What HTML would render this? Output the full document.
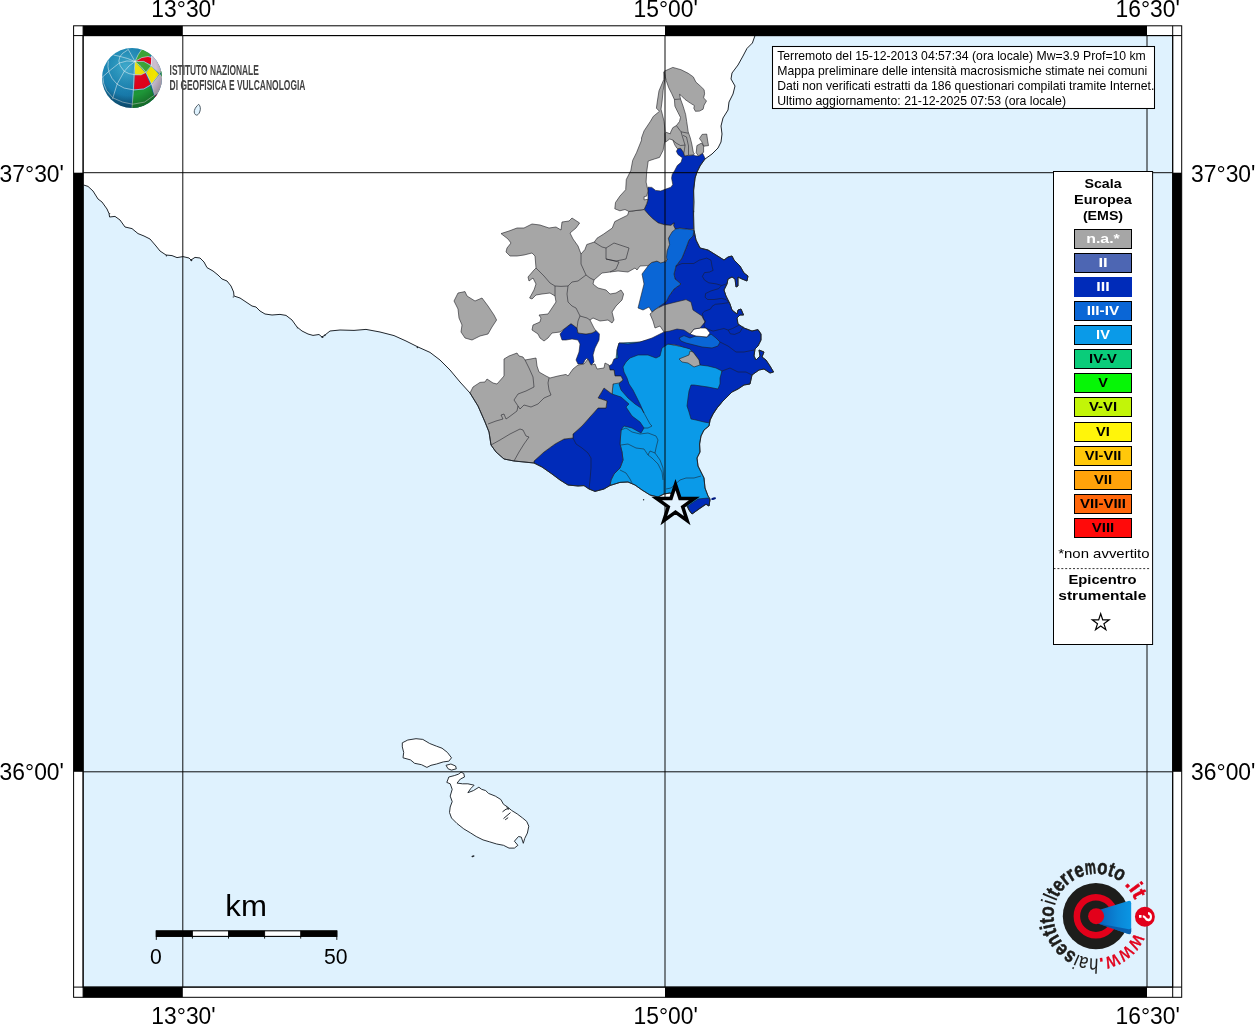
<!DOCTYPE html>
<html><head><meta charset="utf-8"><title>Mappa macrosismica</title>
<style>html,body{margin:0;padding:0;background:#fff}svg{display:block;will-change:transform}text{font-family:"Liberation Sans",sans-serif}</style></head><body>
<svg width="1255" height="1024" viewBox="0 0 1255 1024">
<defs><clipPath id="mapclip"><rect x="83.1" y="35.6" width="1089.6" height="951.5"/></clipPath>

<clipPath id="globeclip"><circle cx="132.0" cy="78.0" r="30.00"/></clipPath>
<radialGradient id="gblue" cx="0.38" cy="0.3" r="0.75">
 <stop offset="0" stop-color="#2ca3c9"/><stop offset="0.55" stop-color="#1a80b0"/><stop offset="1" stop-color="#0d5a88"/>
</radialGradient>
<radialGradient id="gshade" cx="0.45" cy="0.35" r="0.62">
 <stop offset="0" stop-color="#fff" stop-opacity="0.12"/><stop offset="0.7" stop-color="#000" stop-opacity="0"/><stop offset="1" stop-color="#000" stop-opacity="0.28"/>
</radialGradient>
<linearGradient id="cone" x1="0" y1="0" x2="1" y2="0">
 <stop offset="0" stop-color="#0a5fb8"/><stop offset="0.6" stop-color="#0a86d6"/><stop offset="1" stop-color="#0a96e4"/>
</linearGradient>

</defs>
<rect width="1255" height="1024" fill="#fff"/>
<g clip-path="url(#mapclip)">
<rect x="83.1" y="35.6" width="1089.6" height="951.5" fill="#dff2fe"/>
<path d="M60.0 20.0 L755.0 35.6 L752.4 43.0 L747.0 48.4 L743.0 56.0 L738.0 65.0 L732.0 73.0 L731.0 79.0 L735.0 86.0 L733.0 94.0 L729.0 102.0 L728.0 110.0 L723.0 118.0 L721.0 126.0 L722.0 134.0 L721.0 142.0 L718.0 148.0 L712.0 154.0 L705.0 159.0 L700.0 166.0 L697.0 172.0 L695.0 178.0 L693.6 190.0 L694.0 202.0 L693.6 214.0 L694.0 230.0 L696.0 240.0 L700.0 248.0 L708.0 250.0 L716.0 255.0 L724.0 260.0 L728.0 257.0 L732.0 256.0 L734.0 260.0 L740.0 266.0 L744.0 273.0 L748.0 276.0 L747.0 281.0 L742.0 279.0 L738.0 277.0 L738.0 286.0 L736.0 287.0 L735.0 279.0 L732.0 277.0 L728.0 279.0 L727.0 284.0 L724.0 290.0 L726.0 296.0 L730.0 304.0 L732.0 310.0 L737.0 314.0 L738.0 310.0 L741.0 309.0 L743.6 315.0 L740.0 315.0 L737.0 318.0 L738.0 324.0 L744.0 328.0 L752.0 331.0 L758.0 329.6 L761.0 334.0 L761.0 340.0 L758.0 346.0 L755.0 349.0 L754.0 356.0 L756.0 360.0 L760.0 356.0 L759.0 350.0 L764.0 352.0 L762.0 357.0 L766.0 360.0 L770.0 366.0 L773.6 372.0 L770.0 373.0 L764.0 369.0 L759.0 370.0 L752.0 375.0 L750.0 384.0 L744.0 385.0 L738.0 389.0 L732.0 392.0 L728.0 396.0 L722.0 402.0 L717.0 408.0 L713.0 414.0 L710.0 420.0 L709.0 426.0 L704.0 430.0 L701.0 436.0 L699.6 444.0 L700.0 452.0 L697.0 458.0 L698.0 466.0 L701.0 472.0 L704.0 478.0 L705.0 488.0 L708.0 496.0 L710.0 499.0 L709.0 506.0 L706.0 504.0 L700.0 508.0 L692.0 514.0 L689.0 510.0 L686.0 504.0 L680.0 498.0 L670.0 493.0 L664.0 494.0 L658.0 497.0 L650.0 495.0 L642.0 490.0 L635.0 485.0 L628.0 482.0 L620.0 482.4 L610.0 485.5 L604.0 489.0 L595.0 491.4 L589.0 489.0 L584.0 485.6 L578.0 486.0 L568.0 485.0 L560.0 480.0 L552.0 474.0 L542.0 467.0 L534.0 463.0 L524.0 462.0 L514.0 461.0 L504.0 459.0 L496.0 452.0 L491.0 445.0 L489.0 432.0 L485.0 422.0 L478.0 406.0 L470.0 393.0 L460.0 382.0 L450.0 370.0 L440.0 360.0 L430.0 352.4 L418.0 347.0 L406.0 341.0 L394.0 335.6 L380.0 332.0 L366.0 329.4 L354.0 330.4 L340.0 330.0 L330.0 331.0 L325.0 335.0 L322.0 337.0 L319.0 334.5 L313.0 335.4 L308.0 334.0 L302.0 331.0 L297.0 327.0 L292.0 320.0 L286.0 315.4 L280.0 314.4 L272.0 315.0 L265.0 314.0 L260.0 311.0 L256.0 307.0 L252.0 306.0 L246.0 302.0 L240.0 298.0 L234.0 296.0 L233.6 292.0 L231.0 286.0 L227.0 281.0 L222.0 279.0 L218.0 275.0 L213.0 271.0 L207.0 267.6 L204.0 262.0 L200.0 258.0 L195.0 257.4 L191.0 260.0 L189.0 258.0 L183.0 256.6 L177.0 257.6 L172.0 255.6 L166.0 255.0 L160.0 251.0 L156.0 246.0 L150.0 239.0 L144.0 236.0 L138.0 233.6 L132.0 228.6 L125.0 227.0 L120.0 220.0 L115.0 216.4 L109.6 217.0 L109.0 213.5 L107.0 209.0 L102.0 202.0 L98.0 199.0 L93.0 191.0 L88.0 186.4 L83.6 185.0 L60.0 185.0Z" fill="#fff"/>
<path d="M402.3 742.8 L407.8 740.0 L416.0 738.7 L422.8 739.4 L429.7 743.5 L436.5 746.2 L442.0 748.2 L447.4 752.4 L451.5 757.8 L448.8 761.2 L443.3 761.9 L436.5 764.0 L431.0 765.3 L426.9 767.4 L421.5 764.7 L414.6 763.3 L410.5 759.9 L403.0 757.8 L403.7 752.4 L402.3 746.9Z" fill="#fff" stroke="#20262c" stroke-width="0.95" stroke-linejoin="round"/>
<path d="M446.0 765.3 L450.9 764.0 L455.6 766.0 L456.3 768.8 L451.5 770.1 L448.1 768.8Z" fill="#fff" stroke="#20262c" stroke-width="0.95" stroke-linejoin="round"/>
<path d="M448.8 777.0 L454.3 775.6 L458.4 774.2 L461.1 772.2 L463.8 773.5 L464.5 777.0 L460.4 779.0 L457.0 783.1 L462.5 783.8 L467.9 783.8 L474.1 785.2 L470.7 788.6 L467.9 792.7 L473.4 790.6 L478.9 787.2 L481.6 789.3 L485.7 790.6 L488.5 793.4 L495.3 796.1 L500.8 799.5 L503.5 804.3 L507.6 807.0 L511.7 810.5 L517.2 813.9 L522.6 818.0 L526.7 821.4 L528.8 826.2 L527.4 833.0 L524.7 838.5 L523.3 843.3 L521.3 837.1 L518.5 836.5 L514.4 841.2 L517.9 845.3 L514.4 848.1 L509.0 848.1 L503.5 845.3 L496.7 844.0 L489.8 841.9 L483.0 839.9 L476.2 836.5 L470.7 833.0 L463.8 828.9 L457.0 823.5 L451.5 818.0 L449.5 812.5 L450.2 807.0 L452.2 801.6 L450.2 796.1 L452.2 789.3 L450.2 783.8 L446.8 782.4 L448.1 779.0Z" fill="#fff" stroke="#20262c" stroke-width="0.95" stroke-linejoin="round"/>
<path d="M502.5 811.8 L506.0 809.2 L509.0 808.6" fill="none" stroke="#20262c" stroke-width="1.0"/>
<path d="M503.5 818.6 L507.0 815.6 L510.5 812.6" fill="none" stroke="#20262c" stroke-width="1.0"/>
<path d="M505.2 819.8 L508.2 817.6" fill="none" stroke="#20262c" stroke-width="1.0"/>
<path d="M506.5 806.5 L508.5 809.5" fill="none" stroke="#20262c" stroke-width="1.0"/>
<circle cx="166.4" cy="255.8" r="0.7" fill="#20262c"/>
<circle cx="191.3" cy="260.3" r="1.0" fill="#20262c"/>
<circle cx="233.3" cy="296.9" r="0.6" fill="#20262c"/>
<circle cx="109.7" cy="213.6" r="0.6" fill="#20262c"/>
<circle cx="322.4" cy="337.0" r="1.1" fill="#20262c"/>
<circle cx="324.8" cy="335.4" r="0.8" fill="#20262c"/>
<circle cx="417.4" cy="347.4" r="0.8" fill="#20262c"/>
<circle cx="297.3" cy="327.8" r="0.6" fill="#20262c"/>
<circle cx="693.5" cy="177.5" r="0.9" fill="#20262c"/>
<circle cx="693.3" cy="211.5" r="0.9" fill="#20262c"/>
<path d="M198.7 104.3 C200.5 106 200.9 109 199.7 112 C198.9 114 197.5 115.3 196.4 115.1 C194.6 114.7 193.9 112.5 194.4 110.5 C195 108 197 105.6 198.7 104.3Z" fill="#dff2fe" stroke="#3c4a54" stroke-width="0.9"/>
<ellipse cx="473" cy="856.3" rx="1.6" ry="0.8" transform="rotate(-20 473 856.3)" fill="#20262c"/>
<ellipse cx="713.6" cy="498.6" rx="2.5" ry="1.1" transform="rotate(-15 713.6 498.6)" fill="#001a80"/>
<circle cx="643.6" cy="499.8" r="0.7" fill="#20262c"/>
<rect x="653" y="493.2" width="17" height="3" fill="#fff"/>
<path d="M613.0 384.0 L617.0 350.0 L619.0 343.0 L640.0 342.0 L662.0 337.0 L668.0 344.0 L700.0 350.0 L722.0 371.0 L724.0 393.0 L722.0 402.0 L717.0 408.0 L713.0 414.0 L710.0 420.0 L709.0 426.0 L704.0 430.0 L701.0 436.0 L699.6 444.0 L700.0 452.0 L697.0 458.0 L698.0 466.0 L701.0 472.0 L704.0 478.0 L705.0 488.0 L708.0 496.0 L710.0 499.0 L709.0 506.0 L706.0 504.0 L700.0 508.0 L692.0 514.0 L689.0 510.0 L686.0 504.0 L680.0 498.0 L670.0 493.0 L664.0 494.0 L658.0 497.0 L650.0 495.0 L642.0 490.0 L635.0 485.0 L628.0 482.0 L620.0 482.4 L610.0 485.5 L611.0 480.0 L614.0 474.0 L620.0 468.0 L623.0 460.0 L622.0 452.0 L620.0 444.0 L621.0 430.0 L615.0 420.0 L612.0 394.0Z" fill="#0a9ae8" stroke="#1c1c22" stroke-width="0.60" stroke-linejoin="round"/>
<path d="M534.0 461.0 L544.0 452.0 L555.0 444.0 L564.0 439.0 L573.0 438.0 L573.0 434.0 L582.0 426.0 L590.0 417.0 L598.0 408.0 L606.0 408.0 L607.0 401.0 L598.0 398.0 L604.0 388.0 L612.0 394.0 L621.0 397.0 L629.0 404.0 L626.0 407.0 L632.0 416.0 L640.0 422.0 L644.0 428.0 L641.0 433.0 L632.0 428.0 L624.0 426.0 L621.0 430.0 L620.0 444.0 L622.0 452.0 L623.0 460.0 L620.0 468.0 L614.0 474.0 L611.0 480.0 L610.0 485.5 L604.0 489.0 L595.0 491.4 L589.0 489.0 L584.0 485.6 L578.0 486.0 L568.0 485.0 L560.0 480.0 L552.0 474.0 L542.0 467.0 L534.0 463.0Z" fill="#002bb9" stroke="#1c1c22" stroke-width="0.60" stroke-linejoin="round"/>
<path d="M560.0 334.0 L564.0 329.0 L571.0 323.6 L577.0 328.0 L578.0 333.0 L586.0 334.0 L592.0 333.0 L596.0 330.4 L599.4 334.0 L599.0 340.0 L595.0 348.0 L593.0 355.0 L594.0 362.0 L591.0 365.0 L587.0 358.0 L585.0 360.0 L583.0 364.0 L578.0 364.0 L576.0 360.0 L579.0 352.0 L580.0 344.0 L578.0 340.0 L572.0 339.0 L566.0 340.0 L562.0 340.0Z" fill="#002bb9" stroke="#1c1c22" stroke-width="0.60" stroke-linejoin="round"/>
<path d="M648.0 187.2 L651.8 187.4 L655.6 190.4 L660.7 191.0 L665.8 189.1 L670.9 187.2 L672.8 184.6 L671.6 178.2 L672.2 174.4 L674.7 170.6 L677.3 165.5 L681.1 162.3 L682.4 157.8 L680.5 156.4 L677.9 154.4 L676.4 151.3 L677.9 148.7 L680.5 148.2 L683.6 152.3 L684.6 155.9 L688.2 155.4 L693.3 154.9 L695.9 155.9 L699.0 155.9 L702.6 153.3 L705.1 158.5 L700.2 165.5 L697.1 171.9 L695.1 178.2 L693.6 191.0 L693.2 211.4 L693.6 229.2 L687.5 229.2 L679.8 228.0 L675.4 229.2 L673.5 225.4 L674.1 222.9 L670.9 225.4 L664.5 224.8 L658.2 222.9 L653.1 219.0 L649.2 215.2 L644.1 209.5 L646.7 203.7 L648.0 199.3 L648.0 191.0Z" fill="#002bb9" stroke="#1c1c22" stroke-width="0.60" stroke-linejoin="round"/>
<path d="M619.0 343.0 L628.0 344.0 L640.0 342.0 L652.0 338.0 L660.0 334.0 L664.0 332.0 L666.0 330.0 L662.0 325.0 L658.0 318.0 L656.0 312.0 L660.0 306.0 L666.0 302.0 L669.0 296.0 L674.0 289.0 L681.0 284.0 L675.0 279.0 L674.0 274.0 L676.0 266.0 L682.0 258.0 L686.0 248.0 L689.0 240.0 L693.0 236.0 L694.0 231.0 L696.0 240.0 L700.0 248.0 L708.0 250.0 L716.0 255.0 L724.0 260.0 L728.0 257.0 L732.0 256.0 L734.0 260.0 L740.0 266.0 L744.0 273.0 L748.0 276.0 L747.0 281.0 L742.0 279.0 L738.0 277.0 L738.0 286.0 L736.0 287.0 L735.0 279.0 L732.0 277.0 L728.0 279.0 L727.0 284.0 L724.0 290.0 L726.0 296.0 L730.0 304.0 L732.0 310.0 L737.0 314.0 L738.0 310.0 L741.0 309.0 L743.6 315.0 L740.0 315.0 L737.0 318.0 L738.0 324.0 L744.0 328.0 L752.0 331.0 L758.0 329.6 L761.0 334.0 L761.0 340.0 L758.0 346.0 L755.0 349.0 L754.0 356.0 L756.0 360.0 L760.0 356.0 L759.0 350.0 L764.0 352.0 L762.0 357.0 L766.0 360.0 L770.0 366.0 L773.6 372.0 L770.0 373.0 L764.0 369.0 L759.0 370.0 L752.0 375.0 L750.0 384.0 L744.0 385.0 L738.0 389.0 L732.0 392.0 L728.0 396.0 L722.0 402.0 L717.0 408.0 L713.0 414.0 L710.0 420.0 L709.6 423.0 L704.0 422.0 L696.0 420.0 L691.0 419.0 L689.0 412.0 L687.0 406.0 L688.0 398.0 L689.0 391.0 L691.0 385.0 L694.0 385.0 L708.0 387.0 L718.0 389.0 L720.0 384.0 L720.0 378.0 L722.0 371.0 L716.0 368.0 L708.0 366.0 L700.0 365.0 L699.0 360.0 L696.0 356.0 L693.0 352.0 L690.0 349.0 L680.0 346.0 L676.0 345.0 L668.0 344.0 L662.0 348.0 L660.0 356.0 L656.0 358.0 L648.0 355.0 L638.0 355.0 L630.0 358.0 L626.0 362.0 L623.0 367.0 L624.0 372.0 L627.0 378.0 L629.0 384.0 L633.0 390.0 L637.0 398.0 L640.0 404.0 L644.0 413.0 L641.0 408.0 L635.0 404.0 L628.0 398.0 L621.0 390.0 L619.0 384.0 L623.0 380.0 L621.0 376.0 L615.0 376.0 L614.0 370.0 L610.0 370.0 L609.0 366.0 L612.0 364.0 L614.0 359.0 L618.0 358.0 L617.0 350.0Z" fill="#002bb9" stroke="#1c1c22" stroke-width="0.60" stroke-linejoin="round"/>
<path d="M688.0 506.0 L698.0 499.0 L708.0 498.0 L710.0 500.0 L709.0 506.0 L706.0 504.4 L692.0 514.0 L689.0 510.0Z" fill="#002bb9" stroke="#1c1c22" stroke-width="0.60" stroke-linejoin="round"/>
<path d="M673.0 229.0 L680.0 228.5 L687.5 229.2 L694.0 230.0 L693.0 236.0 L689.0 240.0 L686.0 248.0 L682.0 258.0 L676.0 266.0 L674.0 274.0 L675.0 279.0 L681.0 284.0 L674.0 289.0 L669.0 296.0 L666.0 302.0 L660.0 306.0 L652.0 312.0 L649.0 307.0 L643.0 310.0 L638.0 308.0 L641.0 296.0 L644.0 284.0 L642.0 274.0 L648.0 266.0 L652.0 262.0 L660.0 261.0 L666.0 262.0 L667.0 259.0 L665.0 257.0 L666.0 248.0 L668.0 240.0 L670.0 233.0Z" fill="#0a66d6" stroke="#1c1c22" stroke-width="0.60" stroke-linejoin="round"/>
<path d="M679.0 338.0 L684.0 335.6 L690.0 338.0 L696.0 336.0 L707.0 337.0 L711.0 334.0 L716.0 338.0 L720.0 342.0 L718.0 346.0 L712.0 348.0 L702.0 347.0 L694.0 345.0 L686.0 343.0 L681.0 341.0Z" fill="#0a66d6" stroke="#1c1c22" stroke-width="0.60" stroke-linejoin="round"/>
<path d="M690.0 334.0 L694.0 329.0 L700.0 328.0 L706.0 328.0 L710.0 333.0 L707.0 337.0 L696.0 336.0Z" fill="#ffffff" stroke="#1c1c22" stroke-width="0.60" stroke-linejoin="round"/>
<path d="M454.0 301.0 L458.0 293.0 L465.0 291.6 L467.0 296.0 L475.0 301.0 L482.0 298.0 L488.0 306.0 L494.0 315.0 L496.6 320.0 L492.0 327.0 L488.0 334.0 L480.0 336.0 L472.0 340.0 L465.0 338.0 L461.0 332.0 L462.0 325.0 L459.0 318.0 L458.0 309.0Z" fill="#a6a6a6" stroke="#1c1c22" stroke-width="0.60" stroke-linejoin="round"/>
<path d="M501.0 233.6 L509.0 231.0 L517.0 228.0 L524.0 228.0 L532.0 224.0 L540.0 225.0 L549.0 228.0 L556.0 227.0 L561.0 230.0 L562.0 222.0 L569.0 221.0 L572.0 218.0 L579.6 223.0 L576.0 228.0 L570.0 233.0 L573.0 239.0 L578.0 246.0 L581.0 254.0 L584.9 249.6 L586.8 244.5 L594.4 242.0 L597.0 238.2 L603.3 234.3 L612.3 228.0 L614.8 221.6 L619.9 219.0 L627.6 215.2 L628.8 211.4 L644.1 209.5 L649.2 215.2 L653.1 219.0 L658.2 222.9 L664.5 224.8 L670.9 225.4 L674.1 222.9 L673.5 225.4 L675.4 229.2 L672.2 231.8 L668.4 238.2 L669.6 244.5 L667.1 250.9 L666.5 257.3 L667.0 260.0 L664.0 262.0 L660.7 263.0 L656.9 261.1 L651.8 262.4 L648.0 265.6 L640.0 266.0 L637.0 270.0 L635.0 268.0 L628.0 272.0 L618.0 271.0 L610.0 272.0 L602.0 273.0 L594.0 280.0 L593.0 284.0 L598.0 288.0 L606.0 290.0 L610.0 294.0 L616.0 293.0 L621.0 290.0 L623.6 294.0 L622.0 300.0 L616.0 306.0 L612.0 312.0 L614.0 320.0 L612.0 323.0 L608.0 320.0 L600.0 321.0 L593.0 318.0 L590.0 320.0 L594.0 328.0 L596.0 331.0 L592.0 333.0 L586.0 334.0 L578.0 333.0 L577.0 328.0 L571.0 323.6 L564.0 329.0 L560.0 332.0 L552.0 333.0 L548.0 338.0 L544.0 341.0 L540.0 338.0 L538.0 334.0 L532.0 330.0 L533.0 325.0 L540.0 322.0 L541.0 318.0 L539.0 315.0 L548.0 314.0 L552.0 308.0 L556.0 302.0 L555.0 296.0 L550.0 293.0 L542.0 294.0 L536.0 295.0 L532.0 299.0 L529.6 298.0 L534.0 290.0 L536.0 284.0 L533.0 278.0 L529.0 281.0 L528.0 277.0 L534.0 270.0 L536.0 268.0 L535.0 256.0 L532.0 253.0 L524.0 255.0 L517.0 256.0 L510.0 256.0 L506.0 252.0 L507.0 248.0 L511.0 243.0 L508.0 239.0Z" fill="#a6a6a6" stroke="#1c1c22" stroke-width="0.60" stroke-linejoin="round"/>
<path d="M664.0 72.0 L663.8 79.5 L659.0 90.8 L657.4 101.0 L656.4 108.2 L659.5 111.3 L653.3 116.4 L650.3 121.5 L644.1 130.8 L641.5 137.9 L641.6 140.0 L636.5 152.7 L632.7 160.4 L630.8 170.6 L626.3 179.5 L625.7 189.7 L619.9 196.1 L615.5 202.5 L614.8 208.8 L619.9 210.8 L625.0 209.5 L628.8 211.4 L644.1 209.5 L646.7 203.7 L648.0 199.3 L644.1 199.9 L644.1 196.7 L646.7 196.1 L648.0 191.0 L646.1 182.1 L646.7 171.9 L648.2 161.0 L654.4 159.0 L659.5 157.4 L663.1 150.3 L664.6 142.1 L665.1 131.8 L664.1 121.5 L662.1 113.3 L661.0 109.2 L662.1 101.0 L663.1 90.8 L664.8 79.5Z" fill="#a6a6a6" stroke="#1c1c22" stroke-width="0.60" stroke-linejoin="round"/>
<path d="M664.1 71.3 L672.8 67.4 L681.0 69.7 L688.2 73.3 L693.3 76.9 L695.9 82.1 L700.5 86.2 L704.1 89.7 L704.6 93.8 L703.6 97.9 L706.5 101.0 L704.1 105.1 L703.1 109.2 L699.5 111.1 L695.4 111.3 L693.8 108.2 L694.4 105.6 L690.3 103.1 L685.1 99.5 L681.0 95.4 L679.5 94.4 L680.5 99.0 L683.1 106.2 L685.6 114.4 L686.7 121.5 L688.2 131.8 L690.3 137.9 L691.8 144.1 L693.3 152.3 L694.4 153.8 L693.3 154.9 L688.2 155.4 L684.6 155.9 L683.6 152.3 L680.5 148.2 L677.9 148.7 L676.9 148.2 L674.9 145.1 L672.8 140.0 L669.7 139.0 L665.6 142.1 L665.1 133.8 L666.2 132.3 L670.3 133.8 L670.8 131.8 L672.8 127.7 L676.4 125.6 L679.5 121.5 L680.5 117.4 L677.9 112.3 L674.9 106.2 L674.4 99.5 L671.8 93.8 L668.7 87.7 L666.2 80.5Z" fill="#a6a6a6" stroke="#1c1c22" stroke-width="0.60" stroke-linejoin="round"/>
<path d="M699.5 138.5 L702.1 134.4 L706.7 134.1 L707.7 141.0 L708.5 145.6 L703.6 146.2 L702.1 142.1Z" fill="#a6a6a6" stroke="#1c1c22" stroke-width="0.60" stroke-linejoin="round"/>
<path d="M696.9 145.6 L701.5 143.1 L703.6 146.2 L703.6 152.3 L701.5 153.8 L698.5 155.9 L696.2 152.8Z" fill="#a6a6a6" stroke="#1c1c22" stroke-width="0.60" stroke-linejoin="round"/>
<path d="M650.0 314.0 L656.0 309.0 L664.0 305.0 L676.0 302.0 L686.0 299.6 L691.0 302.0 L693.0 310.0 L702.0 316.0 L705.0 322.0 L700.0 328.0 L694.0 329.0 L690.0 334.0 L684.0 330.0 L677.0 329.0 L670.0 331.0 L664.0 332.0 L660.0 326.0 L655.0 328.0 L653.0 321.0Z" fill="#a6a6a6" stroke="#1c1c22" stroke-width="0.60" stroke-linejoin="round"/>
<path d="M679.0 359.0 L684.0 357.0 L689.0 355.0 L690.0 351.0 L693.0 352.0 L696.0 356.0 L699.0 360.0 L700.0 365.0 L694.0 367.0 L688.0 363.0 L682.0 362.0Z" fill="#a6a6a6" stroke="#1c1c22" stroke-width="0.60" stroke-linejoin="round"/>
<path d="M470.0 393.0 L473.0 387.0 L480.0 382.4 L485.0 382.0 L487.0 379.0 L493.0 383.0 L497.0 384.0 L504.0 376.0 L504.0 359.0 L509.0 356.0 L517.0 353.0 L519.0 356.0 L523.0 357.0 L525.0 360.0 L536.0 358.0 L537.0 366.0 L539.0 372.0 L546.0 376.0 L550.0 378.0 L558.0 376.0 L566.0 374.4 L568.0 376.0 L573.0 369.0 L578.0 365.0 L584.0 364.0 L588.0 359.0 L591.0 365.0 L595.0 364.0 L597.0 369.0 L604.0 368.0 L605.0 363.0 L609.0 365.0 L610.0 370.0 L614.0 370.0 L615.0 376.0 L621.0 376.0 L623.0 380.0 L619.0 383.0 L613.0 384.0 L612.0 394.0 L604.0 388.0 L598.0 398.0 L607.0 401.0 L606.0 408.0 L598.0 408.0 L590.0 417.0 L582.0 426.0 L573.0 434.0 L573.0 438.0 L564.0 439.0 L555.0 444.0 L544.0 452.0 L534.0 461.0 L534.0 463.0 L524.0 462.0 L514.0 461.0 L504.0 459.0 L496.0 452.0 L491.0 445.0 L489.0 432.0 L485.0 422.0 L478.0 406.0Z" fill="#a6a6a6" stroke="#1c1c22" stroke-width="0.60" stroke-linejoin="round"/>
<path d="M674.4 99.5 L680.5 99.0" fill="none" stroke="#1c1c22" stroke-width="0.55" stroke-linejoin="round"/>
<path d="M676.4 125.6 L681.0 131.8 L688.2 133.2" fill="none" stroke="#1c1c22" stroke-width="0.55" stroke-linejoin="round"/>
<path d="M681.0 131.8 L684.1 142.1 L685.1 145.1 L684.0 152.5" fill="none" stroke="#1c1c22" stroke-width="0.55" stroke-linejoin="round"/>
<path d="M683.1 135.4 L686.5 137.0 L688.5 146.0 L688.5 155.0" fill="none" stroke="#1c1c22" stroke-width="0.55" stroke-linejoin="round"/>
<path d="M672.8 140.0 L676.0 143.0 L680.5 145.5 L685.1 145.1" fill="none" stroke="#1c1c22" stroke-width="0.55" stroke-linejoin="round"/>
<path d="M675.5 266.2 L682.0 263.5 L693.8 263.5 L699.2 260.2 L706.7 258.1 L711.0 260.2 L712.0 266.2 L713.1 270.4 L709.4 272.1 L704.5 272.6 L702.4 276.4 L704.5 280.1 L708.8 282.8 L716.3 283.9 L721.7 285.5 L726.5 283.9" fill="none" stroke="#1c1c22" stroke-width="0.55" stroke-linejoin="round"/>
<path d="M721.7 285.5 L718.5 288.7 L711.0 290.9 L705.6 293.5 L705.1 297.3 L707.7 299.5 L714.2 299.5 L721.7 298.4 L726.0 299.5 L729.2 302.7" fill="none" stroke="#1c1c22" stroke-width="0.55" stroke-linejoin="round"/>
<path d="M712.0 306.4 L715.3 304.3 L721.7 303.7 L728.2 302.7" fill="none" stroke="#1c1c22" stroke-width="0.55" stroke-linejoin="round"/>
<path d="M712.0 306.4 L710.4 309.1 L704.5 311.3 L702.4 313.4" fill="none" stroke="#1c1c22" stroke-width="0.55" stroke-linejoin="round"/>
<path d="M702.4 313.4 L703.4 318.8 L705.6 320.9 L704.0 324.2 L704.5 327.4 L708.8 329.5 L713.1 331.1 L719.6 329.5 L723.9 328.5 L728.2 330.1 L732.5 328.5 L736.7 326.3 L738.9 325.2" fill="none" stroke="#1c1c22" stroke-width="0.55" stroke-linejoin="round"/>
<path d="M728.2 330.1 L730.3 333.8 L734.6 334.4 L740.0 332.2 L742.1 328.5 L743.2 326.3" fill="none" stroke="#1c1c22" stroke-width="0.55" stroke-linejoin="round"/>
<path d="M720.0 342.0 L728.0 346.0 L736.0 352.0 L744.0 352.0 L754.0 350.0" fill="none" stroke="#1c1c22" stroke-width="0.55" stroke-linejoin="round"/>
<path d="M722.0 371.0 L730.0 368.0 L738.0 372.0 L746.0 372.0 L752.0 375.0" fill="none" stroke="#1c1c22" stroke-width="0.55" stroke-linejoin="round"/>
<path d="M536.0 268.0 L544.0 276.0 L550.0 283.0 L555.0 286.0 L561.0 286.4 L568.0 286.0 L572.0 282.0 L578.0 281.0 L586.0 275.0 L581.0 264.0 L581.0 254.0" fill="none" stroke="#1c1c22" stroke-width="0.55" stroke-linejoin="round"/>
<path d="M586.0 275.0 L590.0 278.0 L594.0 280.0" fill="none" stroke="#1c1c22" stroke-width="0.55" stroke-linejoin="round"/>
<path d="M555.0 286.0 L555.0 296.0" fill="none" stroke="#1c1c22" stroke-width="0.55" stroke-linejoin="round"/>
<path d="M568.0 286.0 L567.0 294.0 L568.0 302.0 L572.0 306.0 L576.0 308.0 L580.0 316.0 L578.0 321.0 L577.0 328.0" fill="none" stroke="#1c1c22" stroke-width="0.55" stroke-linejoin="round"/>
<path d="M580.0 316.0 L587.0 318.0 L590.0 320.0" fill="none" stroke="#1c1c22" stroke-width="0.55" stroke-linejoin="round"/>
<path d="M606.0 248.0 L614.0 243.0 L629.0 248.0 L626.0 259.0 L616.0 261.0 L606.0 259.0 L606.0 248.0" fill="none" stroke="#1c1c22" stroke-width="0.55" stroke-linejoin="round"/>
<path d="M594.0 242.0 L602.0 247.0 L606.0 248.0" fill="none" stroke="#1c1c22" stroke-width="0.55" stroke-linejoin="round"/>
<path d="M606.0 259.0 L619.0 262.0 L616.0 269.0 L610.0 272.0" fill="none" stroke="#1c1c22" stroke-width="0.55" stroke-linejoin="round"/>
<path d="M525.0 360.0 L529.0 368.0 L533.0 377.0 L534.0 387.0 L526.0 391.0 L518.0 394.0 L514.0 400.0 L518.0 406.0 L517.0 411.0 L509.0 417.0 L506.0 419.0 L504.0 414.0 L501.0 415.0 L503.0 419.0 L496.0 421.0 L488.0 424.0" fill="none" stroke="#1c1c22" stroke-width="0.55" stroke-linejoin="round"/>
<path d="M549.0 378.0 L548.0 383.0 L549.0 390.0 L551.0 395.0 L544.0 398.0 L538.0 404.0 L531.0 407.0 L524.0 405.0 L520.0 409.0 L518.0 406.0" fill="none" stroke="#1c1c22" stroke-width="0.55" stroke-linejoin="round"/>
<path d="M491.0 445.0 L500.0 440.0 L510.0 434.0 L520.0 429.0 L523.0 430.0 L526.0 436.0 L529.0 437.0 L524.0 444.0 L519.0 452.0 L514.0 461.0" fill="none" stroke="#1c1c22" stroke-width="0.55" stroke-linejoin="round"/>
<path d="M573.0 438.0 L576.0 444.0 L582.0 448.0 L588.0 453.0 L591.0 458.0 L591.0 468.0 L590.0 480.0 L589.0 489.0" fill="none" stroke="#1c1c22" stroke-width="0.55" stroke-linejoin="round"/>
<path d="M621.0 430.0 L626.0 428.0 L632.0 432.0 L640.0 434.0 L648.0 433.0 L656.0 436.0 L658.0 440.0 L656.0 448.0 L655.0 453.0 L660.0 460.0 L663.0 468.0 L664.0 480.0 L664.0 494.0" fill="none" stroke="#1c1c22" stroke-width="0.55" stroke-linejoin="round"/>
<path d="M621.0 445.0 L628.0 444.0 L636.0 448.0 L644.0 449.0 L648.0 455.0 L650.0 451.0 L655.0 453.0" fill="none" stroke="#1c1c22" stroke-width="0.55" stroke-linejoin="round"/>
<path d="M648.0 455.0 L652.0 458.0 L658.0 464.0 L662.0 472.0 L663.0 480.0" fill="none" stroke="#1c1c22" stroke-width="0.55" stroke-linejoin="round"/>
<path d="M620.0 470.0 L626.0 473.0 L630.0 479.0 L632.0 483.0" fill="none" stroke="#1c1c22" stroke-width="0.55" stroke-linejoin="round"/>
<path d="M666.0 489.0 L671.0 488.0 L680.0 480.0 L686.0 478.0 L694.0 478.0 L701.0 476.0" fill="none" stroke="#1c1c22" stroke-width="0.55" stroke-linejoin="round"/>
<path d="M644.0 413.0 L650.0 424.0 L652.0 426.0 L648.0 428.0 L644.0 428.0" fill="none" stroke="#1c1c22" stroke-width="0.55" stroke-linejoin="round"/>
<path d="M755.0 35.6 L752.4 43.0 L747.0 48.4 L743.0 56.0 L738.0 65.0 L732.0 73.0 L731.0 79.0 L735.0 86.0 L733.0 94.0 L729.0 102.0 L728.0 110.0 L723.0 118.0 L721.0 126.0 L722.0 134.0 L721.0 142.0 L718.0 148.0 L712.0 154.0 L705.0 159.0 L700.0 166.0 L697.0 172.0 L695.0 178.0 L693.6 190.0 L694.0 202.0 L693.6 214.0 L694.0 230.0 L696.0 240.0 L700.0 248.0 L708.0 250.0 L716.0 255.0 L724.0 260.0 L728.0 257.0 L732.0 256.0 L734.0 260.0 L740.0 266.0 L744.0 273.0 L748.0 276.0 L747.0 281.0 L742.0 279.0 L738.0 277.0 L738.0 286.0 L736.0 287.0 L735.0 279.0 L732.0 277.0 L728.0 279.0 L727.0 284.0 L724.0 290.0 L726.0 296.0 L730.0 304.0 L732.0 310.0 L737.0 314.0 L738.0 310.0 L741.0 309.0 L743.6 315.0 L740.0 315.0 L737.0 318.0 L738.0 324.0 L744.0 328.0 L752.0 331.0 L758.0 329.6 L761.0 334.0 L761.0 340.0 L758.0 346.0 L755.0 349.0 L754.0 356.0 L756.0 360.0 L760.0 356.0 L759.0 350.0 L764.0 352.0 L762.0 357.0 L766.0 360.0 L770.0 366.0 L773.6 372.0 L770.0 373.0 L764.0 369.0 L759.0 370.0 L752.0 375.0 L750.0 384.0 L744.0 385.0 L738.0 389.0 L732.0 392.0 L728.0 396.0 L722.0 402.0 L717.0 408.0 L713.0 414.0 L710.0 420.0 L709.0 426.0 L704.0 430.0 L701.0 436.0 L699.6 444.0 L700.0 452.0 L697.0 458.0 L698.0 466.0 L701.0 472.0 L704.0 478.0 L705.0 488.0 L708.0 496.0 L710.0 499.0 L709.0 506.0 L706.0 504.0 L700.0 508.0 L692.0 514.0 L689.0 510.0 L686.0 504.0 L680.0 498.0 L670.0 493.0 L664.0 494.0 L658.0 497.0 L650.0 495.0 L642.0 490.0 L635.0 485.0 L628.0 482.0 L620.0 482.4 L610.0 485.5 L604.0 489.0 L595.0 491.4 L589.0 489.0 L584.0 485.6 L578.0 486.0 L568.0 485.0 L560.0 480.0 L552.0 474.0 L542.0 467.0 L534.0 463.0 L524.0 462.0 L514.0 461.0 L504.0 459.0 L496.0 452.0 L491.0 445.0 L489.0 432.0 L485.0 422.0 L478.0 406.0 L470.0 393.0 L460.0 382.0 L450.0 370.0 L440.0 360.0 L430.0 352.4 L418.0 347.0 L406.0 341.0 L394.0 335.6 L380.0 332.0 L366.0 329.4 L354.0 330.4 L340.0 330.0 L330.0 331.0 L325.0 335.0 L322.0 337.0 L319.0 334.5 L313.0 335.4 L308.0 334.0 L302.0 331.0 L297.0 327.0 L292.0 320.0 L286.0 315.4 L280.0 314.4 L272.0 315.0 L265.0 314.0 L260.0 311.0 L256.0 307.0 L252.0 306.0 L246.0 302.0 L240.0 298.0 L234.0 296.0 L233.6 292.0 L231.0 286.0 L227.0 281.0 L222.0 279.0 L218.0 275.0 L213.0 271.0 L207.0 267.6 L204.0 262.0 L200.0 258.0 L195.0 257.4 L191.0 260.0 L189.0 258.0 L183.0 256.6 L177.0 257.6 L172.0 255.6 L166.0 255.0 L160.0 251.0 L156.0 246.0 L150.0 239.0 L144.0 236.0 L138.0 233.6 L132.0 228.6 L125.0 227.0 L120.0 220.0 L115.0 216.4 L109.6 217.0 L109.0 213.5 L107.0 209.0 L102.0 202.0 L98.0 199.0 L93.0 191.0 L88.0 186.4 L83.6 185.0" fill="none" stroke="#20262c" stroke-width="1.0" stroke-linejoin="round"/>
<line x1="182.8" y1="35.6" x2="182.8" y2="987.1" stroke="#000" stroke-width="0.95"/>
<line x1="665.0" y1="35.6" x2="665.0" y2="987.1" stroke="#000" stroke-width="0.95"/>
<line x1="1147.0" y1="35.6" x2="1147.0" y2="987.1" stroke="#000" stroke-width="0.95"/>
<line x1="83.1" y1="172.7" x2="1172.7" y2="172.7" stroke="#000" stroke-width="0.95"/>
<line x1="83.1" y1="771.8" x2="1172.7" y2="771.8" stroke="#000" stroke-width="0.95"/>
<path d="M675.5 484.6 L680.0 498.4 L694.4 498.4 L682.7 506.8 L687.2 520.6 L675.5 512.1 L663.8 520.6 L668.3 506.8 L656.6 498.4 L671.0 498.4Z" fill="#e3f3fe" stroke="#000" stroke-width="3.5" stroke-miterlimit="10"/>
</g>
<rect x="73.6" y="25.8" width="1108.1" height="971.5" fill="none" stroke="#000" stroke-width="1.0"/>
<rect x="83.1" y="25.8" width="99.7" height="9.8" fill="#000"/>
<rect x="83.1" y="987.1" width="99.7" height="10.2" fill="#000"/>
<rect x="665.0" y="25.8" width="482.0" height="9.8" fill="#000"/>
<rect x="665.0" y="987.1" width="482.0" height="10.2" fill="#000"/>
<rect x="73.6" y="172.7" width="9.5" height="599.1" fill="#000"/>
<rect x="1172.7" y="172.7" width="9.0" height="599.1" fill="#000"/>
<rect x="83.1" y="35.6" width="1089.6" height="951.5" fill="none" stroke="#000" stroke-width="1.0"/>
<line x1="83.1" y1="25.8" x2="83.1" y2="997.3" stroke="#000" stroke-width="1.0"/>
<line x1="1172.7" y1="25.8" x2="1172.7" y2="997.3" stroke="#000" stroke-width="1.0"/>
<line x1="73.6" y1="35.6" x2="1181.7" y2="35.6" stroke="#000" stroke-width="1.0"/>
<line x1="73.6" y1="987.1" x2="1181.7" y2="987.1" stroke="#000" stroke-width="1.0"/>
<text x="183.5" y="16.9" font-size="23.30" text-anchor="middle" font-weight="normal" fill="#000" textLength="64.3" lengthAdjust="spacingAndGlyphs">13°30'</text>
<text x="183.5" y="1023.6" font-size="23.30" text-anchor="middle" font-weight="normal" fill="#000" textLength="64.3" lengthAdjust="spacingAndGlyphs">13°30'</text>
<text x="665.7" y="16.9" font-size="23.30" text-anchor="middle" font-weight="normal" fill="#000" textLength="64.3" lengthAdjust="spacingAndGlyphs">15°00'</text>
<text x="665.7" y="1023.6" font-size="23.30" text-anchor="middle" font-weight="normal" fill="#000" textLength="64.3" lengthAdjust="spacingAndGlyphs">15°00'</text>
<text x="1147.7" y="16.9" font-size="23.30" text-anchor="middle" font-weight="normal" fill="#000" textLength="64.3" lengthAdjust="spacingAndGlyphs">16°30'</text>
<text x="1147.7" y="1023.6" font-size="23.30" text-anchor="middle" font-weight="normal" fill="#000" textLength="64.3" lengthAdjust="spacingAndGlyphs">16°30'</text>
<text x="63.9" y="181.6" font-size="23.30" text-anchor="end" font-weight="normal" fill="#000" textLength="64.3" lengthAdjust="spacingAndGlyphs">37°30'</text>
<text x="1191.1" y="181.6" font-size="23.30" text-anchor="start" font-weight="normal" fill="#000" textLength="64.3" lengthAdjust="spacingAndGlyphs">37°30'</text>
<text x="63.9" y="780.2" font-size="23.30" text-anchor="end" font-weight="normal" fill="#000" textLength="64.3" lengthAdjust="spacingAndGlyphs">36°00'</text>
<text x="1191.1" y="780.2" font-size="23.30" text-anchor="start" font-weight="normal" fill="#000" textLength="64.3" lengthAdjust="spacingAndGlyphs">36°00'</text>
<rect x="156.3" y="930.8" width="180.5" height="5.6" fill="#fff" stroke="#000" stroke-width="1.1"/>
<rect x="156.3" y="930.8" width="36.1" height="5.6" fill="#000"/>
<rect x="228.5" y="930.8" width="36.1" height="5.6" fill="#000"/>
<rect x="300.7" y="930.8" width="36.1" height="5.6" fill="#000"/>
<line x1="156.3" y1="930.8" x2="156.3" y2="939.9" stroke="#000" stroke-width="0.9"/>
<line x1="192.4" y1="930.8" x2="192.4" y2="938.6" stroke="#000" stroke-width="0.9"/>
<line x1="228.5" y1="930.8" x2="228.5" y2="938.6" stroke="#000" stroke-width="0.9"/>
<line x1="264.6" y1="930.8" x2="264.6" y2="938.6" stroke="#000" stroke-width="0.9"/>
<line x1="300.7" y1="930.8" x2="300.7" y2="938.6" stroke="#000" stroke-width="0.9"/>
<line x1="336.8" y1="930.8" x2="336.8" y2="939.9" stroke="#000" stroke-width="0.9"/>
<text x="246.1" y="915.5" font-size="29.20" text-anchor="middle" font-weight="normal" fill="#000" textLength="41.6" lengthAdjust="spacingAndGlyphs">km</text>
<text x="156.0" y="963.9" font-size="21.20" text-anchor="middle" font-weight="normal" fill="#000">0</text>
<text x="335.8" y="963.9" font-size="21.20" text-anchor="middle" font-weight="normal" fill="#000">50</text>
<rect x="772.5" y="46.5" width="382.0" height="62.0" fill="#fff" stroke="#000" stroke-width="1.05"/>
<text x="777.2" y="59.7" font-size="12.20" text-anchor="start" font-weight="normal" fill="#000" textLength="368.6" lengthAdjust="spacingAndGlyphs">Terremoto del 15-12-2013 04:57:34 (ora locale) Mw=3.9 Prof=10 km</text>
<text x="777.2" y="74.8" font-size="12.20" text-anchor="start" font-weight="normal" fill="#000" textLength="370.0" lengthAdjust="spacingAndGlyphs">Mappa preliminare delle intensità macrosismiche stimate nei comuni</text>
<text x="777.2" y="89.9" font-size="12.20" text-anchor="start" font-weight="normal" fill="#000" textLength="377.2" lengthAdjust="spacingAndGlyphs">Dati non verificati estratti da 186 questionari compilati tramite Internet.</text>
<text x="777.2" y="105.0" font-size="12.20" text-anchor="start" font-weight="normal" fill="#000" textLength="288.8" lengthAdjust="spacingAndGlyphs">Ultimo aggiornamento: 21-12-2025 07:53 (ora locale)</text>
<rect x="1053.5" y="171.5" width="99.1" height="473.0" fill="#fff" stroke="#000" stroke-width="1"/>
<text x="1103.0" y="187.8" font-size="11.90" text-anchor="middle" font-weight="bold" fill="#000" textLength="37.2" lengthAdjust="spacingAndGlyphs">Scala</text>
<text x="1103.0" y="203.8" font-size="11.90" text-anchor="middle" font-weight="bold" fill="#000" textLength="57.8" lengthAdjust="spacingAndGlyphs">Europea</text>
<text x="1103.0" y="219.8" font-size="11.90" text-anchor="middle" font-weight="bold" fill="#000" textLength="40.2" lengthAdjust="spacingAndGlyphs">(EMS)</text>
<rect x="1074.5" y="229.5" width="57" height="19" fill="#a6a6a6" stroke="#000" stroke-width="1"/>
<text x="1103.0" y="242.8" font-size="11.90" text-anchor="middle" font-weight="bold" fill="#fff" textLength="33.6" lengthAdjust="spacingAndGlyphs">n.a.*</text>
<rect x="1074.5" y="253.5" width="57" height="19" fill="#4d66b3" stroke="#000" stroke-width="1"/>
<text x="1103.0" y="266.8" font-size="11.90" text-anchor="middle" font-weight="bold" fill="#fff" textLength="9.2" lengthAdjust="spacingAndGlyphs">II</text>
<rect x="1074.5" y="277.5" width="57" height="19" fill="#002bb9" stroke="#002bb9" stroke-width="1"/>
<text x="1103.0" y="290.8" font-size="11.90" text-anchor="middle" font-weight="bold" fill="#fff" textLength="13.4" lengthAdjust="spacingAndGlyphs">III</text>
<rect x="1074.5" y="301.5" width="57" height="19" fill="#0a66d6" stroke="#000" stroke-width="1"/>
<text x="1103.0" y="314.8" font-size="11.90" text-anchor="middle" font-weight="bold" fill="#fff" textLength="32.4" lengthAdjust="spacingAndGlyphs">III-IV</text>
<rect x="1074.5" y="325.5" width="57" height="19" fill="#0a9ae8" stroke="#000" stroke-width="1"/>
<text x="1103.0" y="338.8" font-size="11.90" text-anchor="middle" font-weight="bold" fill="#fff" textLength="13.8" lengthAdjust="spacingAndGlyphs">IV</text>
<rect x="1074.5" y="349.5" width="57" height="19" fill="#0acc7a" stroke="#000" stroke-width="1"/>
<text x="1103.0" y="362.8" font-size="11.90" text-anchor="middle" font-weight="bold" fill="#000" textLength="27.8" lengthAdjust="spacingAndGlyphs">IV-V</text>
<rect x="1074.5" y="373.5" width="57" height="19" fill="#06f606" stroke="#000" stroke-width="1"/>
<text x="1103.0" y="386.8" font-size="11.90" text-anchor="middle" font-weight="bold" fill="#000" textLength="9.6" lengthAdjust="spacingAndGlyphs">V</text>
<rect x="1074.5" y="397.5" width="57" height="19" fill="#c2f508" stroke="#000" stroke-width="1"/>
<text x="1103.0" y="410.8" font-size="11.90" text-anchor="middle" font-weight="bold" fill="#000" textLength="28.0" lengthAdjust="spacingAndGlyphs">V-VI</text>
<rect x="1074.5" y="422.5" width="57" height="19" fill="#fff50a" stroke="#000" stroke-width="1"/>
<text x="1103.0" y="435.8" font-size="11.90" text-anchor="middle" font-weight="bold" fill="#000" textLength="13.8" lengthAdjust="spacingAndGlyphs">VI</text>
<rect x="1074.5" y="446.5" width="57" height="19" fill="#ffc80a" stroke="#000" stroke-width="1"/>
<text x="1103.0" y="459.8" font-size="11.90" text-anchor="middle" font-weight="bold" fill="#000" textLength="36.6" lengthAdjust="spacingAndGlyphs">VI-VII</text>
<rect x="1074.5" y="470.5" width="57" height="19" fill="#ffa20a" stroke="#000" stroke-width="1"/>
<text x="1103.0" y="483.8" font-size="11.90" text-anchor="middle" font-weight="bold" fill="#000" textLength="18.2" lengthAdjust="spacingAndGlyphs">VII</text>
<rect x="1074.5" y="494.5" width="57" height="19" fill="#ff660a" stroke="#000" stroke-width="1"/>
<text x="1103.0" y="507.8" font-size="11.90" text-anchor="middle" font-weight="bold" fill="#000" textLength="45.8" lengthAdjust="spacingAndGlyphs">VII-VIII</text>
<rect x="1074.5" y="518.5" width="57" height="19" fill="#ff0a0a" stroke="#000" stroke-width="1"/>
<text x="1103.0" y="531.8" font-size="11.90" text-anchor="middle" font-weight="bold" fill="#000" textLength="22.6" lengthAdjust="spacingAndGlyphs">VIII</text>
<text x="1103.9" y="557.7" font-size="12.60" text-anchor="middle" font-weight="normal" fill="#000" textLength="91.4" lengthAdjust="spacingAndGlyphs">*non avvertito</text>
<line x1="1053.5" y1="568.6" x2="1150.6" y2="568.6" stroke="#000" stroke-width="0.8" stroke-dasharray="2 1.9"/>
<text x="1102.5" y="583.8" font-size="11.90" text-anchor="middle" font-weight="bold" fill="#000" textLength="68.2" lengthAdjust="spacingAndGlyphs">Epicentro</text>
<text x="1102.3" y="599.7" font-size="11.90" text-anchor="middle" font-weight="bold" fill="#000" textLength="88.0" lengthAdjust="spacingAndGlyphs">strumentale</text>
<path d="M1100.7 613.7 L1102.7 619.8 L1109.2 619.8 L1103.9 623.7 L1105.9 629.8 L1100.7 626.0 L1095.5 629.8 L1097.5 623.7 L1092.2 619.8 L1098.7 619.8Z" fill="#fff" stroke="#000" stroke-width="1.15"/>
<g clip-path="url(#globeclip)">
<circle cx="132.0" cy="78.0" r="31.0" fill="url(#gblue)"/>
<path d="M135.02 61.55 L138.19 54.66 L141.70 49.03 L146.63 47.63 L152.25 53.95 L148.03 56.41 L141.70 57.47Z" fill="#3aa535"/>
<path d="M135.02 61.55 L141.70 57.82 L148.03 56.55 L151.90 57.82 L151.20 64.85 L143.81 61.13Z" fill="#e2001a"/>
<path d="M151.20 56.06 L155.77 56.06 L163.50 70.13 L159.28 72.94 L150.84 65.55Z" fill="#cdbfd0"/>
<path d="M135.02 61.55 L143.81 61.69 L151.20 65.55 L145.92 72.09Z" fill="#3aa535"/>
<path d="M135.02 61.55 L145.22 72.38 L141.00 74.70 L135.02 74.48Z" fill="#f2e500"/>
<path d="M151.20 66.26 L158.93 74.20 L151.55 83.63 L146.27 72.38Z" fill="#f2e500"/>
<path d="M134.67 75.19 L141.00 75.05 L145.36 72.94 L150.28 84.33 L143.81 88.55 L134.11 89.25Z" fill="#e2001a"/>
<path d="M159.28 74.70 L165.61 77.16 L165.61 87.00 L158.23 92.77 L154.50 94.88 L151.69 84.19Z" fill="#cdbfd0"/>
<path d="M133.83 90.52 L143.81 89.53 L150.56 85.88 L153.80 95.58 L156.47 98.25 L149.44 109.50 L131.51 109.50Z" fill="#1e9638"/>
<path d="M154.71 96.14 L158.23 93.19 L159.28 95.44 L155.77 98.25Z" fill="#e2001a"/>
<path d="M160.34 71.53 L163.50 70.13 L163.50 77.16 L161.04 76.45Z" fill="#3aa535"/>
<path d="M135.02 61.55 L131.16 54.66 L127.78 48.68" fill="none" stroke="#fff" stroke-width="0.55" stroke-opacity="0.92" stroke-linejoin="round"/>
<path d="M135.02 61.55 L127.64 58.52 L119.91 56.41 L113.58 55.01" fill="none" stroke="#fff" stroke-width="0.55" stroke-opacity="0.92" stroke-linejoin="round"/>
<path d="M135.02 61.55 L126.94 60.98 L119.20 63.09 L108.66 71.53 L102.33 77.16" fill="none" stroke="#fff" stroke-width="0.55" stroke-opacity="0.92" stroke-linejoin="round"/>
<path d="M135.02 61.55 L129.05 65.91 L124.13 71.53 L117.09 84.19 L112.52 98.95" fill="none" stroke="#fff" stroke-width="0.55" stroke-opacity="0.92" stroke-linejoin="round"/>
<path d="M135.02 61.55 L134.32 70.13 L133.97 77.16 L133.27 91.22 L132.00 108.09" fill="none" stroke="#fff" stroke-width="0.55" stroke-opacity="0.92" stroke-linejoin="round"/>
<path d="M135.02 61.55 L141.70 57.68 L148.03 56.48 L151.90 57.61" fill="none" stroke="#fff" stroke-width="0.55" stroke-opacity="0.92" stroke-linejoin="round"/>
<path d="M135.02 61.55 L143.81 61.41 L151.20 65.77 L159.63 73.99 L162.80 78.56" fill="none" stroke="#fff" stroke-width="0.55" stroke-opacity="0.92" stroke-linejoin="round"/>
<path d="M135.02 61.55 L141.00 66.61 L145.92 72.23 L151.55 83.91 L154.50 95.16" fill="none" stroke="#fff" stroke-width="0.55" stroke-opacity="0.92" stroke-linejoin="round"/>
<path d="M135.02 61.55 L138.19 54.66 L142.05 49.03" fill="none" stroke="#fff" stroke-width="0.55" stroke-opacity="0.92" stroke-linejoin="round"/>
<path d="M127.78 49.88 L122.72 53.25 L119.91 56.63 L118.85 60.98 L120.26 65.91 L124.13 71.18 L129.05 73.64 L135.02 74.70 L141.00 74.91 L145.36 72.66 L151.20 65.91 L151.90 57.82 L151.20 56.06" fill="none" stroke="#fff" stroke-width="0.55" stroke-opacity="0.92" stroke-linejoin="round"/>
<path d="M108.30 60.63 L107.95 66.61 L109.01 72.23 L112.17 78.56 L117.09 84.19 L124.13 88.05 L133.97 89.95 L143.81 88.97 L150.56 85.03 L158.93 74.34 L161.04 71.53" fill="none" stroke="#fff" stroke-width="0.55" stroke-opacity="0.92" stroke-linejoin="round"/>
<path d="M102.68 76.45 L103.73 83.48 L106.55 90.52 L112.88 97.90 L122.72 102.12 L132.56 104.23 L144.52 102.12 L154.01 95.44 L158.44 92.77" fill="none" stroke="#fff" stroke-width="0.55" stroke-opacity="0.92" stroke-linejoin="round"/>
<circle cx="132.0" cy="78.0" r="31.0" fill="url(#gshade)"/>
</g>
<text x="169.6" y="74.8" font-size="14.0" font-weight="bold" fill="#424242" textLength="89.2" lengthAdjust="spacingAndGlyphs">ISTITUTO NAZIONALE</text>
<text x="169.6" y="89.5" font-size="14.0" font-weight="bold" fill="#424242" textLength="135.8" lengthAdjust="spacingAndGlyphs">DI GEOFISICA E VULCANOLOGIA</text>
<g>
<circle cx="1095.9" cy="916.2" r="33.1" fill="#1d1d1b"/>
<circle cx="1095.9" cy="916.2" r="19.05" fill="none" stroke="#e2001a" stroke-width="6.5"/>
<path d="M1098.9 910.0 L1128.3 900.9 Q1131.2 900.3 1131.2 903.2 L1131.2 931.6 Q1131.2 934.8 1128.3 934.0 L1097.9 923.4 Z" fill="url(#cone)"/>
<path d="M1097.9 923.4 L1128.3 934.0 Q1131.2 934.8 1131.2 931.6 L1131.2 928.0 Q1130.5 929.8 1127.5 929.0 Z" fill="#0a4f9e" fill-opacity="0.75"/>
<circle cx="1096.1" cy="916.2" r="8.0" fill="#e2001a"/>
<circle cx="1144.9" cy="916.8" r="9.95" fill="#e2001a"/>
<text x="1144.9" y="916.8" font-size="18" font-weight="bold" fill="#fff" text-anchor="middle" transform="rotate(90 1144.9 916.8) translate(0 6.3)">?</text>
<path id="hcirc" d="M1138.20 916.20 A42.30 42.30 0 1 1 1053.60 916.20 A42.30 42.30 0 1 1 1138.20 916.20" fill="none"/>
<text font-size="20.8" font-weight="normal" fill="#e2001a" stroke="#e2001a" stroke-width="0.45"><textPath href="#hcirc" startOffset="16.98" textLength="41.34" lengthAdjust="spacingAndGlyphs">www</textPath></text>
<text font-size="20.8" font-weight="bold" fill="#e2001a" stroke="#e2001a" stroke-width="0.55"><textPath href="#hcirc" startOffset="59.06" textLength="4.06" lengthAdjust="spacingAndGlyphs">.</textPath></text>
<text font-size="20.8" font-weight="normal" fill="#1d1d1b" stroke="#1d1d1b" stroke-width="0.1"><textPath href="#hcirc" startOffset="63.86" textLength="21.78" lengthAdjust="spacingAndGlyphs">hai</textPath></text>
<text font-size="20.8" font-weight="bold" fill="#1d1d1b" stroke="#1d1d1b" stroke-width="0.55"><textPath href="#hcirc" startOffset="86.01" textLength="29.16" lengthAdjust="spacingAndGlyphs">sen</textPath></text>
<text font-size="20.8" font-weight="bold" fill="#1d1d1b" stroke="#1d1d1b" stroke-width="0.55"><textPath href="#hcirc" startOffset="115.54" textLength="26.58" lengthAdjust="spacingAndGlyphs">tito</textPath></text>
<text font-size="20.8" font-weight="normal" fill="#1d1d1b" stroke="#1d1d1b" stroke-width="0.1"><textPath href="#hcirc" startOffset="142.86" textLength="8.86" lengthAdjust="spacingAndGlyphs">il</textPath></text>
<text font-size="20.8" font-weight="bold" fill="#1d1d1b" stroke="#1d1d1b" stroke-width="0.55"><textPath href="#hcirc" startOffset="151.35" textLength="37.28" lengthAdjust="spacingAndGlyphs">terre</textPath></text>
<text font-size="20.8" font-weight="bold" fill="#1d1d1b" stroke="#1d1d1b" stroke-width="0.55"><textPath href="#hcirc" startOffset="188.63" textLength="11.07" lengthAdjust="spacingAndGlyphs">m</textPath></text>
<text font-size="20.8" font-weight="bold" fill="#1d1d1b" stroke="#1d1d1b" stroke-width="0.55"><textPath href="#hcirc" startOffset="199.70" textLength="26.21" lengthAdjust="spacingAndGlyphs">oto</textPath></text>
<text font-size="20.8" font-weight="bold" fill="#e2001a" stroke="#e2001a" stroke-width="0.55"><textPath href="#hcirc" startOffset="230.34" textLength="18.09" lengthAdjust="spacingAndGlyphs">.it</textPath></text>
</g>
</svg></body></html>
